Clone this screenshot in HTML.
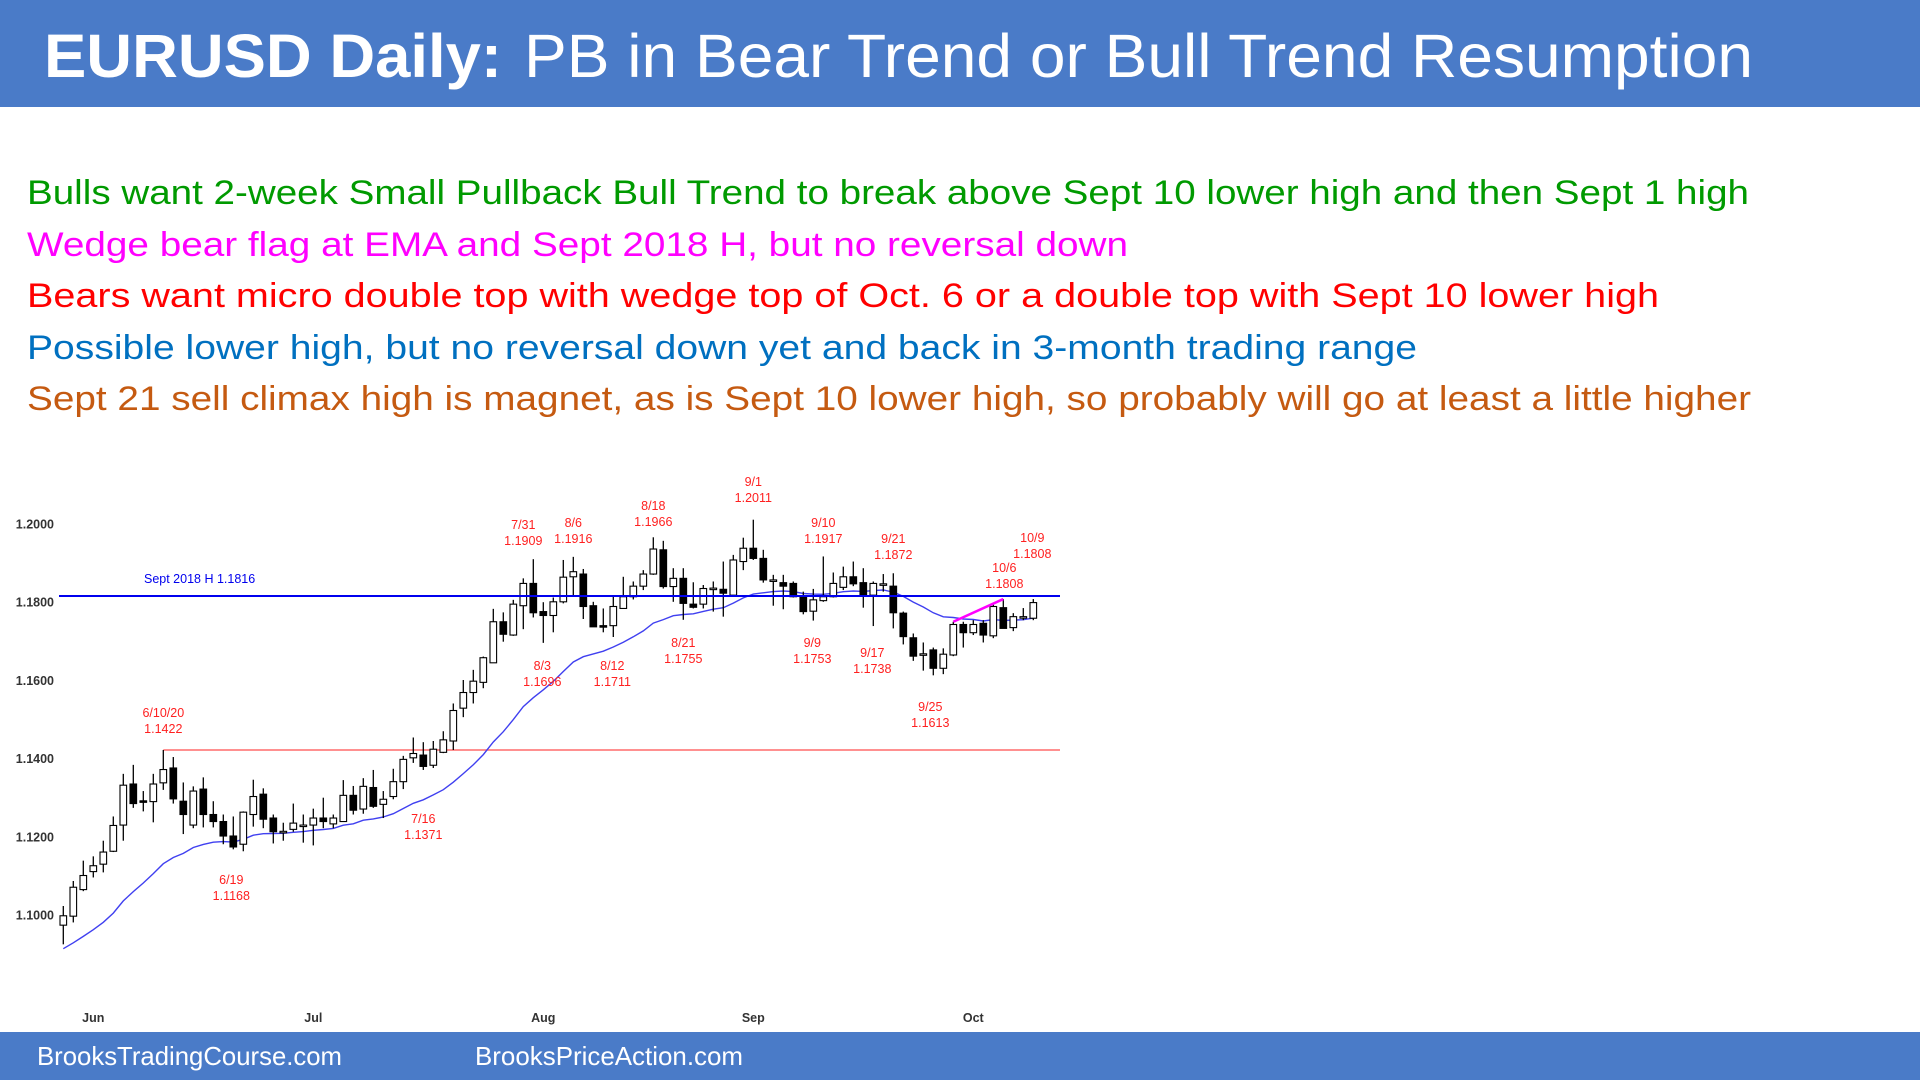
<!DOCTYPE html>
<html><head><meta charset="utf-8"><style>
html,body{margin:0;padding:0;background:#fff;}
svg{display:block;font-family:"Liberation Sans",sans-serif;}
</style></head><body>
<svg id="root" width="1920" height="1080" viewBox="0 0 1920 1080" xmlns="http://www.w3.org/2000/svg">
<rect x="0" y="0" width="1920" height="107" fill="#4A7BC8"/>
<text x="44" y="77" font-size="61" fill="#fff"><tspan font-weight="bold" textLength="458" lengthAdjust="spacingAndGlyphs">EURUSD Daily:</tspan><tspan x="524" textLength="1229" lengthAdjust="spacingAndGlyphs">PB in Bear Trend or Bull Trend Resumption</tspan></text>
<text x="27" y="204" font-size="34" fill="#009A00" textLength="1722" lengthAdjust="spacingAndGlyphs">Bulls want 2-week Small Pullback Bull Trend to break above Sept 10 lower high and then Sept 1 high</text>
<text x="27" y="256" font-size="34" fill="#FF00FF" textLength="1101" lengthAdjust="spacingAndGlyphs">Wedge bear flag at EMA and Sept 2018 H, but no reversal down</text>
<text x="27" y="307" font-size="34" fill="#FF0000" textLength="1632" lengthAdjust="spacingAndGlyphs">Bears want micro double top with wedge top of Oct. 6 or a double top with Sept 10 lower high</text>
<text x="27" y="359" font-size="34" fill="#0070C0" textLength="1390" lengthAdjust="spacingAndGlyphs">Possible lower high, but no reversal down yet and back in 3-month trading range</text>
<text x="27" y="410" font-size="34" fill="#C55A11" textLength="1724" lengthAdjust="spacingAndGlyphs">Sept 21 sell climax high is magnet, as is Sept 10 lower high, so probably will go at least a little higher</text>
<g id="chart"></g>
<rect x="0" y="1032" width="1920" height="48" fill="#4A7BC8"/>
<text x="37" y="1065" font-size="26" fill="#fff" textLength="305" lengthAdjust="spacingAndGlyphs">BrooksTradingCourse.com</text>
<text x="475" y="1065" font-size="26" fill="#fff" textLength="268" lengthAdjust="spacingAndGlyphs">BrooksPriceAction.com</text>
</svg>
<script>
const opens=[1.0974,1.0997,1.1065,1.1111,1.1130,1.1163,1.1230,1.1335,1.1292,1.1290,1.1338,1.1376,1.1291,1.1230,1.1322,1.1257,1.1239,1.1202,1.1181,1.1257,1.1309,1.1248,1.1213,1.1219,1.1229,1.1230,1.1248,1.1233,1.1239,1.1306,1.1271,1.1326,1.1283,1.1303,1.1341,1.1402,1.1409,1.1383,1.1416,1.1445,1.1529,1.1569,1.1595,1.1645,1.1750,1.1716,1.1791,1.1848,1.1776,1.1766,1.1801,1.1865,1.1872,1.1791,1.1740,1.1740,1.1784,1.1814,1.1841,1.1872,1.1934,1.1840,1.1861,1.1795,1.1795,1.1835,1.1833,1.1818,1.1904,1.1938,1.1912,1.1857,1.1850,1.1848,1.1817,1.1777,1.1804,1.1814,1.1838,1.1865,1.1850,1.1818,1.1847,1.1841,1.1772,1.1709,1.1668,1.1678,1.1631,1.1665,1.1743,1.1722,1.1746,1.1714,1.1786,1.1735,1.1763,1.1759];
const highs=[1.1023,1.1087,1.1139,1.1150,1.1190,1.1252,1.1361,1.1384,1.1317,1.1361,1.1422,1.1404,1.1339,1.1329,1.1352,1.1291,1.1257,1.1252,1.1265,1.1346,1.1324,1.1257,1.1236,1.1285,1.1257,1.1272,1.1300,1.1257,1.1345,1.1330,1.1350,1.1371,1.1317,1.1374,1.1407,1.1454,1.1442,1.1445,1.1470,1.1541,1.1601,1.1627,1.1661,1.1783,1.1774,1.1806,1.1861,1.1910,1.1800,1.1812,1.1908,1.1916,1.1885,1.1801,1.1784,1.1814,1.1865,1.1853,1.1882,1.1966,1.1957,1.1887,1.1887,1.1851,1.1844,1.1853,1.1904,1.1921,1.1965,1.2011,1.1934,1.1870,1.1870,1.1853,1.1827,1.1834,1.1917,1.1876,1.1891,1.1904,1.1887,1.1853,1.1872,1.1874,1.1776,1.1720,1.1697,1.1684,1.1682,1.1750,1.1750,1.1754,1.1754,1.1795,1.1808,1.1772,1.1785,1.1808];
const lows=[1.0925,1.0981,1.1061,1.1096,1.1109,1.1161,1.1190,1.1274,1.1265,1.1237,1.1320,1.1285,1.1207,1.1222,1.1224,1.1224,1.1181,1.1168,1.1163,1.1226,1.1222,1.1183,1.1190,1.1213,1.1185,1.1178,1.1222,1.1222,1.1239,1.1257,1.1259,1.1274,1.1248,1.1296,1.1322,1.1389,1.1371,1.1376,1.1414,1.1422,1.1506,1.1541,1.1580,1.1645,1.1699,1.1714,1.1731,1.1761,1.1696,1.1723,1.1797,1.1818,1.1757,1.1737,1.1723,1.1711,1.1783,1.1807,1.1831,1.1870,1.1835,1.1801,1.1755,1.1784,1.1784,1.1776,1.1763,1.1818,1.1882,1.1908,1.1850,1.1791,1.1782,1.1812,1.1769,1.1753,1.1801,1.1812,1.1831,1.1841,1.1786,1.1739,1.1827,1.1733,1.1692,1.1650,1.1625,1.1613,1.1616,1.1662,1.1684,1.1716,1.1697,1.1708,1.1733,1.1726,1.1754,1.1754];
const closes=[1.0998,1.1071,1.1101,1.1126,1.1161,1.1229,1.1332,1.1285,1.1290,1.1335,1.1372,1.1297,1.1257,1.1317,1.1257,1.1239,1.1202,1.1174,1.1263,1.1303,1.1245,1.1213,1.1214,1.1235,1.1230,1.1248,1.1239,1.1248,1.1306,1.1268,1.1329,1.1278,1.1296,1.1341,1.1398,1.1413,1.1380,1.1424,1.1448,1.1523,1.1569,1.1598,1.1658,1.1750,1.1718,1.1795,1.1848,1.1773,1.1766,1.1801,1.1864,1.1878,1.1789,1.1737,1.1739,1.1789,1.1814,1.1841,1.1872,1.1936,1.1840,1.1861,1.1797,1.1787,1.1835,1.1836,1.1823,1.1908,1.1938,1.1912,1.1857,1.1857,1.1841,1.1814,1.1776,1.1806,1.1814,1.1848,1.1865,1.1847,1.1818,1.1848,1.1847,1.1773,1.1712,1.1662,1.1668,1.1631,1.1667,1.1743,1.1722,1.1743,1.1716,1.1789,1.1733,1.1763,1.1763,1.1799];
const emaSeed=1.0905;
const yTicks=[1.2000,1.1800,1.1600,1.1400,1.1200,1.1000];
const monthLabels=["Jun","Jul","Aug","Sep","Oct"];
const monthIdx=[3,25,48,69,91];
const sept2018High=1.1816;
const juneHigh=1.1422;
const juneHighIdx=10;
const wedgeIdx=[89,94];
const wedgeVals=[1.1750,1.1808];
const annDates=["6/10/20","6/19","7/16","7/31","8/6","8/18","9/1","9/10","9/21","10/9","10/6","8/3","8/12","8/21","9/9","9/17","9/25"];
const annPrices=["1.1422","1.1168","1.1371","1.1909","1.1916","1.1966","1.2011","1.1917","1.1872","1.1808","1.1808","1.1696","1.1711","1.1755","1.1753","1.1738","1.1613"];
const annIdx=[10,16.8,36,46,51,59,69,76,83,96.9,94.1,47.9,54.9,62,74.9,80.9,86.7];
const annOffsetPx=[-46,-43,-150,-70,-70,-70,-70,-70,-70,-70,-54,0,0,0,0,0,0];

const NS="http://www.w3.org/2000/svg";
const g=document.getElementById('chart');
const X0=63.3,DX=10,Y0=524,PY=3910;
const xs=i=>X0+i*DX;
const ys=p=>Y0+(1.2-p)*PY;
function mk(t,a){const e=document.createElementNS(NS,t);for(const k in a)e.setAttribute(k,a[k]);g.appendChild(e);return e;}

yTicks.forEach(v=>{const t=mk('text',{x:54,y:ys(v)+4.5,'font-size':12.5,'font-weight':'bold','text-anchor':'end',fill:'#333'});t.textContent=v.toFixed(4);

});
monthLabels.forEach((m,k)=>{const t=mk('text',{x:xs(monthIdx[k]),y:1022,'font-size':12.5,'font-weight':'bold','text-anchor':'middle',fill:'#333'});t.textContent=m;

});

let l=mk('line',{x1:xs(juneHighIdx),x2:1060,y1:ys(juneHigh),y2:ys(juneHigh),stroke:'#FF6B6B','stroke-width':1.6});



// EMA
let e=emaSeed,pts=[];const a=2/21;
closes.forEach((c,i)=>{e=e+a*(c-e);pts.push(xs(i).toFixed(1)+','+ys(e).toFixed(1));});
let ema=mk('polyline',{points:pts.join(' '),fill:'none',stroke:'#4040F0','stroke-width':1.4});



closes.forEach((c,i)=>{const o=opens[i],x=xs(i);
const w=mk('line',{x1:x,x2:x,y1:ys(highs[i]),y2:ys(lows[i]),stroke:'#000','stroke-width':1.3});


const top=ys(Math.max(o,c)),bot=ys(Math.min(o,c));
const r=mk('rect',{x:x-3.3,y:top,width:6.6,height:Math.max(1.5,bot-top),fill:c>=o?'#fff':'#000',stroke:'#000','stroke-width':1.1});

});

let bl=mk('line',{x1:59,x2:1060,y1:ys(sept2018High),y2:ys(sept2018High),stroke:'#0000EE','stroke-width':2});


let bt=mk('text',{x:144,y:583,'font-size':12.5,fill:'#0000EE'});bt.textContent='Sept 2018 H 1.1816';



let wl=mk('line',{x1:xs(wedgeIdx[0]),y1:ys(wedgeVals[0]),x2:xs(wedgeIdx[1]),y2:ys(wedgeVals[1]),stroke:'#FF00FF','stroke-width':2.6});



annDates.forEach((d,k)=>{const i=annIdx[k],x=xs(i);const ii=Math.round(i);
const base=annOffsetPx[k]<0?ys(highs[Math.min(ii,97)])+annOffsetPx[k]:ys(lows[Math.min(ii,97)])+40;
let yy=base;
if(k===0)yy=713;if(k===1)yy=880;if(k===2)yy=819;if(k===3)yy=525;if(k===4)yy=523;if(k===5)yy=506;if(k===6)yy=482;if(k===7)yy=523;if(k===8)yy=539;if(k===9)yy=538;if(k===10)yy=568;if(k===11)yy=666;if(k===12)yy=666;if(k===13)yy=643;if(k===14)yy=643;if(k===15)yy=653;if(k===16)yy=707;
const t1=mk('text',{x:x,y:yy+4,'font-size':12.5,'text-anchor':'middle',fill:'#FF2020'});t1.textContent=d;


const t2=mk('text',{x:x,y:yy+20,'font-size':12.5,'text-anchor':'middle',fill:'#FF2020'});t2.textContent=annPrices[k];

});
</script>
</body></html>
